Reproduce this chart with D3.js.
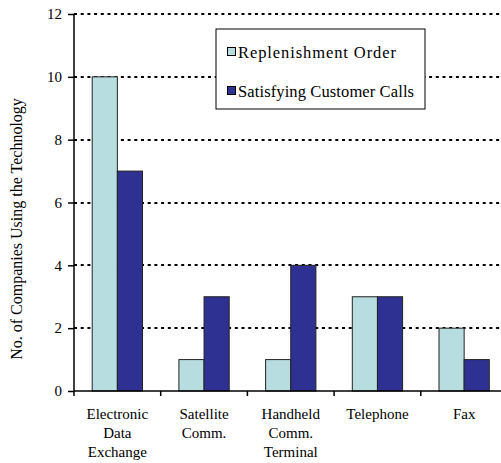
<!DOCTYPE html>
<html>
<head>
<meta charset="utf-8">
<script src="https://cdn.jsdelivr.net/npm/d3@7"></script>
<style>
  html, body { margin: 0; padding: 0; background: #fff; }
  svg { display: block; }
  svg text { font-family: "Liberation Serif", "Times New Roman", Times, "Nimbus Roman", "DejaVu Serif", serif; }
</style>
</head>
<body>
<svg id="chart" width="501" height="463"></svg>
<script>
// Technologies (multi-line labels) and counts per purpose
const categories = [
  ["Electronic", "Data", "Exchange"],
  ["Satellite", "Comm."],
  ["Handheld", "Comm.", "Terminal"],
  ["Telephone"],
  ["Fax"]
];
const seriesNames = ["Replenishment Order", "Satisfying Customer Calls"];
const replenishmentOrder = [10, 1, 1, 3, 2];
const satisfyingCustomerCalls = [7, 3, 4, 3, 1];
const yTicks = [0, 2, 4, 6, 8, 10, 12];
const yTitle = "No. of Companies Using the Technology";
const colors = ["#B8DDE0", "#2E3191"];

const series = [replenishmentOrder, satisfyingCustomerCalls];
const keys = categories.map(c => c.join(" "));

const svg = d3.select("#chart");
const plotLeft = 74, plotRight = 507.5, plotTop = 14, plotBottom = 391;

const y = d3.scaleLinear().domain([0, 12]).range([plotBottom, plotTop]);
const x0 = d3.scaleBand().domain(keys).range([plotLeft, plotRight]).padding(0);
const bw = x0.bandwidth();
const x1 = d3.scaleBand().domain(seriesNames).range([bw * 0.21, bw * 0.79]).padding(0);

// dotted horizontal gridlines
svg.append("g")
  .selectAll("line")
  .data(yTicks.filter(d => d > 0))
  .join("line")
  .attr("x1", plotLeft).attr("x2", plotRight)
  .attr("y1", d => Math.round(y(d))).attr("y2", d => Math.round(y(d)))
  .attr("stroke", "#000")
  .attr("stroke-width", 2)
  .attr("stroke-dasharray", "3,3.7");

// bars
const groups = svg.append("g")
  .selectAll("g")
  .data(keys)
  .join("g")
  .attr("transform", d => `translate(${x0(d)},0)`);

groups.selectAll("rect")
  .data((d, i) => seriesNames.map((s, j) => ({ s, j, v: series[j][i] })))
  .join("rect")
  .attr("x", d => x1(d.s))
  .attr("y", d => y(d.v))
  .attr("width", x1.bandwidth())
  .attr("height", d => y(0) - y(d.v))
  .attr("fill", d => colors[d.j])
  .attr("stroke", "#222")
  .attr("stroke-width", 1);

// y axis
const yAxis = d3.axisLeft(y).tickValues(yTicks).tickSize(6).tickPadding(6).tickFormat(d3.format("d"));
const gy = svg.append("g").attr("transform", `translate(${plotLeft},0)`).call(yAxis);
gy.attr("font-family", null);
gy.select(".domain").attr("stroke", "#000").attr("stroke-width", 1.5).attr("d", `M0,${plotTop}V${plotBottom}`);
gy.selectAll(".tick line").attr("stroke", "#000").attr("stroke-width", 1.5);
gy.selectAll(".tick text").attr("font-size", 15).attr("fill", "#000");

// x axis: ticks at band boundaries
svg.append("line")
  .attr("x1", plotLeft).attr("x2", plotRight)
  .attr("y1", plotBottom).attr("y2", plotBottom)
  .attr("stroke", "#000").attr("stroke-width", 1.5);
svg.append("g")
  .selectAll("line")
  .data(keys)
  .join("line")
  .attr("x1", d => x0(d)).attr("x2", d => x0(d))
  .attr("y1", plotBottom).attr("y2", plotBottom + 5)
  .attr("stroke", "#000").attr("stroke-width", 1.5);

// category labels
svg.append("g")
  .selectAll("text")
  .data(categories)
  .join("text")
  .attr("text-anchor", "middle")
  .attr("font-size", 15)
  .attr("fill", "#000")
  .attr("transform", (d, i) => `translate(${x0(keys[i]) + bw / 2},${plotBottom + 28})`)
  .selectAll("tspan")
  .data(d => d)
  .join("tspan")
  .attr("x", 0)
  .attr("dy", (d, i) => i === 0 ? 0 : 19)
  .text(d => d);

// y title
svg.append("text")
  .attr("transform", `translate(22,${(93 + 365) / 2}) rotate(-90)`)
  .attr("text-anchor", "middle")
  .attr("font-size", 16)
  .attr("fill", "#000")
  .text(yTitle);

// legend (text stretched slightly with wide letter spacing)
const legendTextWidths = [158, 176];
const legend = svg.append("g").attr("transform", "translate(216,29)");
legend.append("rect")
  .attr("width", 209).attr("height", 80)
  .attr("fill", "#fff").attr("stroke", "#000").attr("stroke-width", 1);
const items = legend.selectAll("g.item")
  .data(seriesNames)
  .join("g")
  .attr("class", "item")
  .attr("transform", (d, i) => `translate(11,${23 + i * 39})`);
items.append("rect")
  .attr("x", 0.5).attr("y", -4.5)
  .attr("width", 8).attr("height", 8)
  .attr("fill", (d, i) => colors[i])
  .attr("stroke", "#000").attr("stroke-width", 1);
items.append("text")
  .attr("x", 11).attr("y", 5.5)
  .attr("font-size", 16.5)
  .attr("fill", "#000")
  .attr("textLength", (d, i) => legendTextWidths[i])
  .attr("lengthAdjust", "spacing")
  .text(d => d);
</script>
</body>
</html>
